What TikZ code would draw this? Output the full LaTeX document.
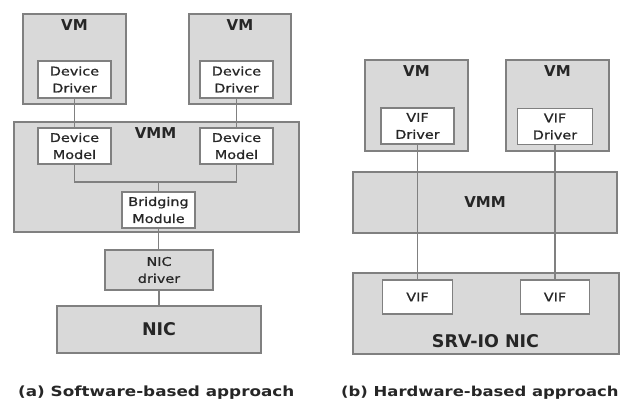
\documentclass[tikz,border=0pt]{standalone}
\usepackage{fontspec}
\setmainfont{DejaVu Sans}
\newfontfamily\widefont{DejaVu Sans}[FakeStretch=1.2,FakeBold=0.8]
\newfontfamily\capfont{DejaVu Sans Bold}[FakeStretch=1.2]
\definecolor{boxgray}{HTML}{D9D9D9}
\definecolor{edgegray}{HTML}{808080}
\definecolor{inkgray}{HTML}{262626}

\begin{document}
\begin{tikzpicture}[x=1pt,y=-1pt,
    layer/.style={draw=edgegray, line width=1.8pt, fill=boxgray, inner sep=0pt},
    part/.style={draw=edgegray, line width=1.8pt, fill=white, inner sep=0pt,
      align=center, text=inkgray, font=\widefont\fontsize{12}{17}\selectfont},
    title/.style={inner sep=0pt, text=inkgray, font=\bfseries\fontsize{15}{18}\selectfont},
    link/.style={draw=edgegray, line width=1.8pt}]
  \fill[white] (0,0) rectangle (624,401);
  \useasboundingbox (0,0) rectangle (624,401);

  % (a) software-based
  \node[layer, minimum width=103pt, minimum height=90pt] (vmA) at (74.5,59) {};
  \node[layer, minimum width=102pt, minimum height=90pt] (vmB) at (240,59) {};
  \node[layer, minimum width=285pt, minimum height=110pt] (vmmA) at (156.5,177) {};
  \node[layer, minimum width=108pt, minimum height=40pt, align=center, text=inkgray,
    font=\widefont\fontsize{12}{17}\selectfont] (nicdrv) at (159,270) {NIC\\driver};
  \node[layer, minimum width=204pt, minimum height=47pt] (nic) at (159,329.5) {};

  \node[title, anchor=north] (vmAt) at ([yshift=-6.7pt]vmA.north) {VM};
  \node[title, anchor=north] (vmBt) at ([yshift=-6.7pt]vmB.north) {VM};
  \node[title, anchor=north] (vmmAt) at (155.5,127.5) {VMM};
  \node[title, font=\bfseries\fontsize{17.5}{20}\selectfont] (nict) at (nic) {NIC};

  \node[part, minimum width=73pt, minimum height=37pt] (ddA) at (74.5,79.5) {Device\\Driver};
  \node[part, minimum width=73pt, minimum height=37pt] (ddB) at (236.5,79.5) {Device\\Driver};
  \node[part, minimum width=73pt, minimum height=36pt] (dmA) at (74.5,146) {Device\\Model};
  \node[part, minimum width=73pt, minimum height=36pt] (dmB) at (236.5,146) {Device\\Model};
  \node[part, minimum width=73pt, minimum height=36pt] (bridge) at (158.5,210) {Bridging\\Module};
  \coordinate (jn) at (158.5,182);

  \draw[link] (ddA) -- (dmA);
  \draw[link] (ddB) -- (dmB);
  \draw[link] (dmA.south) |- (jn) -| (dmB.south);
  \draw[link] (jn) -- (bridge.north);
  \draw[link] (bridge.south) -- (bridge.south |- nicdrv.north);
  \draw[link] (nicdrv.south) -- (nicdrv.south |- nic.north);

  % (b) hardware-based
  \node[layer, minimum width=103pt, minimum height=91pt] (vmC) at (416.5,105.5) {};
  \node[layer, minimum width=103pt, minimum height=91pt] (vmD) at (557.5,105.5) {};
  \node[layer, minimum width=264pt, minimum height=61pt] (vmmB) at (485,202.5) {};
  \node[layer, minimum width=266pt, minimum height=81pt] (srv) at (486,313.5) {};

  \node[title, anchor=north] (vmCt) at ([yshift=-6.7pt]vmC.north) {VM};
  \node[title, anchor=north] (vmDt) at ([yshift=-6.7pt]vmD.north) {VM};
  \node[title] (vmmBt) at (vmmB) {VMM};
  \node[title, anchor=base, font=\bfseries\fontsize{17.5}{20}\selectfont] (srvt) at (485.5,347.7) {SRV-IO NIC};

  \node[part, minimum width=73pt, minimum height=36pt] (vifdA) at (417.5,126) {VIF\\Driver};
  \node[part, minimum width=75pt, minimum height=36pt] (vifdB) at (555,126.5) {VIF\\Driver};
  \node[part, minimum width=70pt, minimum height=34pt] (vifA) at (417.5,297) {VIF};
  \node[part, minimum width=69pt, minimum height=34pt] (vifB) at (555,297) {VIF};

  \draw[link] (vifdA) -- (vifA);
  \draw[link] (vifdB) -- (vifB);

  % captions
  \node[anchor=base west, inner sep=0pt, text=inkgray,
    font=\capfont\fontsize{14}{17}\selectfont] (capA) at (18,396.7)
    {(a) Software-based approach};
  \node[anchor=base west, inner sep=0pt, text=inkgray,
    font=\capfont\fontsize{13.7}{17}\selectfont] (capB) at (341,396.7)
    {(b) Hardware-based approach};
\end{tikzpicture}
\end{document}
